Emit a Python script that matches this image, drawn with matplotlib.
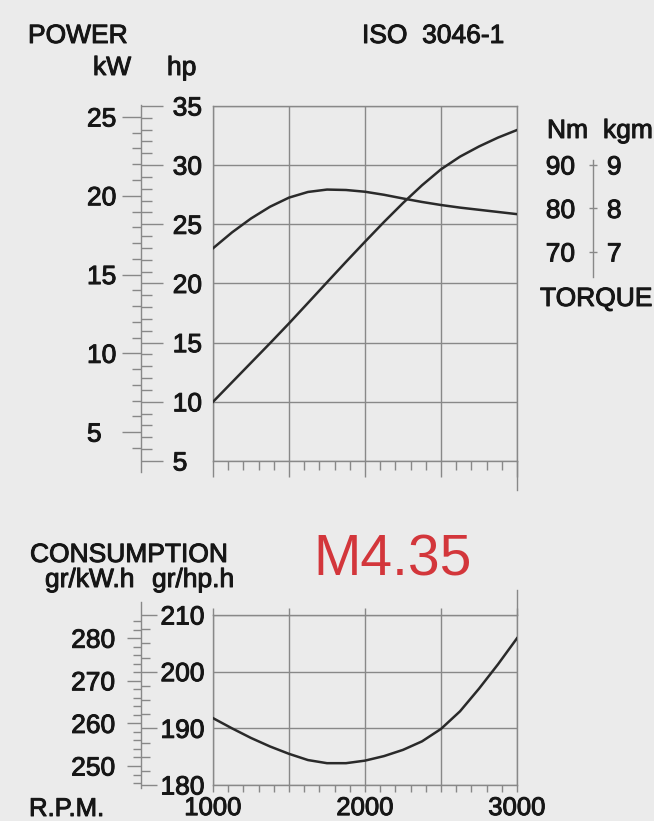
import matplotlib
matplotlib.use('Agg')
import matplotlib.pyplot as plt
import matplotlib.patheffects as pe
from matplotlib.text import Text
from matplotlib.ticker import MultipleLocator, FuncFormatter

W, H, DPI = 654, 821, 100

# ── Data ──────────────────────────────────────────────────────────────────────
rpm = [1000, 1125, 1250, 1375, 1500, 1625, 1750, 1875, 2000,
       2125, 2250, 2375, 2500, 2625, 2750, 2875, 3000]
power_hp = [10.0, 11.65, 13.3, 14.95, 16.63, 18.36, 20.1, 21.83, 23.53,
            25.2, 26.8, 28.3, 29.65, 30.72, 31.58, 32.33, 32.97]
torque_nm = [70.85, 74.5, 77.7, 80.4, 82.5, 83.8, 84.35, 84.25, 83.85,
             83.15, 82.3, 81.5, 80.8, 80.2, 79.7, 79.2, 78.7]
consumption_ghph = [191.8, 190.0, 188.3, 186.8, 185.5, 184.4, 183.85, 183.85, 184.3,
                    185.1, 186.2, 187.7, 189.9, 193.0, 197.0, 201.3, 205.9]

rpm_major = [1000, 1500, 2000, 2500, 3000]
hp_ticks = [5, 10, 15, 20, 25, 30, 35]
kw_ticks = [5, 10, 15, 20, 25]
nm_ticks = [70, 80, 90]
kgm_ticks = [7, 8, 9]
ghph_ticks = [180, 190, 200, 210]
gkwh_ticks = [250, 260, 270, 280]

# scale conversions as printed on the sheet
hp2kw = lambda hp: 0.751 * hp - 0.588
kw2hp = lambda kw: (kw + 0.588) / 0.751
ghph2gkwh = lambda g: 250 + (g - 183.35) / 0.7517
gkwh2ghph = lambda g: 183.35 + (g - 250) * 0.7517
nm2kgm = lambda nm: nm / 10
kgm2nm = lambda kgm: kgm * 10

# ── Style ─────────────────────────────────────────────────────────────────────
BG = '#ebebeb'
GRID = '#888888'
INK = '#161616'
CURVE = '#2a2a2a'
RED = '#d3363b'
FS = 19

plt.rcParams['font.family'] = ['Liberation Sans', 'DejaVu Sans']
plt.rcParams['text.color'] = INK
plt.rcParams['ytick.labelcolor'] = INK
plt.rcParams['xtick.labelcolor'] = INK

fig = plt.figure(figsize=(W / DPI, H / DPI), dpi=DPI, facecolor=BG)


def rect(x0, y0, x1, y1):
    """pixel box (top-left origin) -> figure fraction rect"""
    return [x0 / W, 1 - y1 / H, (x1 - x0) / W, (y1 - y0) / H]


def label(x, y, s, **kw):
    return fig.text(x / W, 1 - y / H, s, fontsize=kw.pop('fontsize', FS), va='baseline', **kw)


def style_plot(ax, ylim, yticks):
    ax.set_facecolor('none')
    ax.set_xlim(1000, 3000)
    ax.set_ylim(*ylim)
    ax.set_xticks(rpm_major)
    ax.xaxis.set_minor_locator(MultipleLocator(100))
    ax.set_yticks(yticks)
    ax.grid(True, which='major', color=GRID, lw=1.0)
    for sp in ax.spines.values():
        sp.set_color(GRID)
        sp.set_linewidth(1.0)
    ax.tick_params(axis='y', length=0, labelleft=False)
    ax.tick_params(axis='x', which='both', color=GRID, width=1.0, direction='out')


def scale_axis(x, y0, y1, ylim, bounds):
    sc = fig.add_axes(rect(x, y0, x + 0.01, y1))
    sc.set_ylim(*ylim)
    sc.patch.set_visible(False)
    sc.set_xticks([])
    for side in ('top', 'bottom', 'right'):
        sc.spines[side].set_visible(False)
    sc.spines['left'].set_bounds(*bounds)
    sc.spines['left'].set_color(GRID)
    sc.spines['left'].set_linewidth(1.0)
    return sc


# ── Power / torque chart ─────────────────────────────────────────────────────
ax_top = fig.add_axes(rect(213, 106, 517, 461))
style_plot(ax_top, (5, 35), hp_ticks)
ax_top.tick_params(axis='x', which='major', length=11.5, labelbottom=False)
ax_top.tick_params(axis='x', which='minor', length=6.5)
ax_top.axvline(rpm_major[-1], ymin=-29 / 355, ymax=0, color=GRID, lw=1.0, clip_on=False)
ax_top.plot(rpm, power_hp, color=CURVE, lw=1.8, zorder=3)

NM_LIM = (21.95, 103.56)
ax_tq = ax_top.twinx()
ax_tq.set_ylim(*NM_LIM)
ax_tq.axis('off')
ax_tq.plot(rpm, torque_nm, color=CURVE, lw=1.8, zorder=3)

# hp / kW ruler
sc_hp = scale_axis(141, 106, 461, (5, 35), (4.06, 35.08))
sc_hp.yaxis.tick_right()
sc_hp.set_yticks(hp_ticks)
sc_hp.yaxis.set_minor_locator(MultipleLocator(1))
sc_hp.tick_params(axis='y', which='major', direction='out', length=15.8, width=1.0,
                  color=GRID, pad=7, labelsize=FS)
sc_hp.tick_params(axis='y', which='minor', direction='out', length=7.9, width=1.0, color=GRID)

sc_kw = sc_hp.secondary_yaxis('left', functions=(hp2kw, kw2hp))
sc_kw.set_yticks(kw_ticks)
sc_kw.yaxis.set_minor_locator(MultipleLocator(1))
sc_kw.spines['left'].set_visible(False)
sc_kw.tick_params(axis='y', which='major', direction='out', length=13.7, width=1.0,
                  color=GRID, pad=25.2, labelsize=FS)
sc_kw.tick_params(axis='y', which='minor', direction='out', length=6.5, width=1.0, color=GRID)
for t in sc_kw.get_yticklabels():
    t.set_horizontalalignment('left')

# torque ruler
sc_nm = scale_axis(593, 106, 461, NM_LIM, (64.25, 91.15))
sc_nm.set_yticks(nm_ticks)
sc_nm.tick_params(axis='y', direction='inout', length=5.8, width=1.0, color=GRID,
                  pad=10, labelsize=FS)
sc_kgm = sc_nm.secondary_yaxis('right', functions=(nm2kgm, kgm2nm))
sc_kgm.set_yticks(kgm_ticks)
sc_kgm.spines['right'].set_visible(False)
sc_kgm.tick_params(axis='y', length=0, pad=10, labelsize=FS)

# ── Consumption chart ────────────────────────────────────────────────────────
ax_bot = fig.add_axes(rect(213, 615, 517, 785))
style_plot(ax_bot, (180, 210), ghph_ticks)
ax_bot.xaxis.set_major_formatter(FuncFormatter(lambda v, p: f'{v:.0f}' if v % 1000 == 0 else ''))
ax_bot.tick_params(axis='x', which='major', length=5, top=True, pad=3, labelsize=18.5)
ax_bot.tick_params(axis='x', which='minor', length=5)
ax_bot.axvline(rpm_major[-1], ymin=1, ymax=1 + 25 / 170, color=GRID, lw=1.0, clip_on=False)
ax_bot.plot(rpm, consumption_ghph, color=CURVE, lw=1.8, zorder=3)

sc_gh = scale_axis(141, 615, 785, (180, 210), (179.5, 212.3))
sc_gh.yaxis.tick_right()
sc_gh.set_yticks(ghph_ticks)
sc_gh.yaxis.set_minor_locator(MultipleLocator(2.5))
sc_gh.tick_params(axis='y', which='major', direction='out', length=11.5, width=1.0,
                  color=GRID, pad=2.5, labelsize=FS)
sc_gh.tick_params(axis='y', which='minor', direction='out', length=6.5, width=1.0, color=GRID)

sc_gk = sc_gh.secondary_yaxis('left', functions=(ghph2gkwh, gkwh2ghph))
sc_gk.set_yticks(gkwh_ticks)
sc_gk.yaxis.set_minor_locator(MultipleLocator(2))
sc_gk.spines['left'].set_visible(False)
sc_gk.tick_params(axis='y', which='major', direction='out', length=10, width=1.0,
                  color=GRID, pad=8.6, labelsize=FS)
sc_gk.tick_params(axis='y', which='minor', direction='out', length=5.5, width=1.0, color=GRID)

# ── Headings ─────────────────────────────────────────────────────────────────
label(28, 43, 'POWER')
label(362, 43, 'ISO  3046-1')
label(93, 75, 'kW')
label(167, 75, 'hp')
label(547, 138, 'Nm')
label(603, 138, 'kgm')
label(540, 306, 'TORQUE')
label(30, 562, 'CONSUMPTION')
label(45, 587, 'gr/kW.h')
label(152, 587, 'gr/hp.h')
model = label(313, 575, 'M4.35', fontsize=41, color=RED)
label(29, 816, 'R.P.M.', fontsize=18.5)

# the printed sheet has heavier type than Liberation regular
fig.canvas.draw()
for t in fig.findobj(Text):
    if t is not model and t.get_text():
        t.set_path_effects([pe.withStroke(linewidth=0.7, foreground=INK)])

fig.savefig('out.png', dpi=DPI, facecolor=BG)
